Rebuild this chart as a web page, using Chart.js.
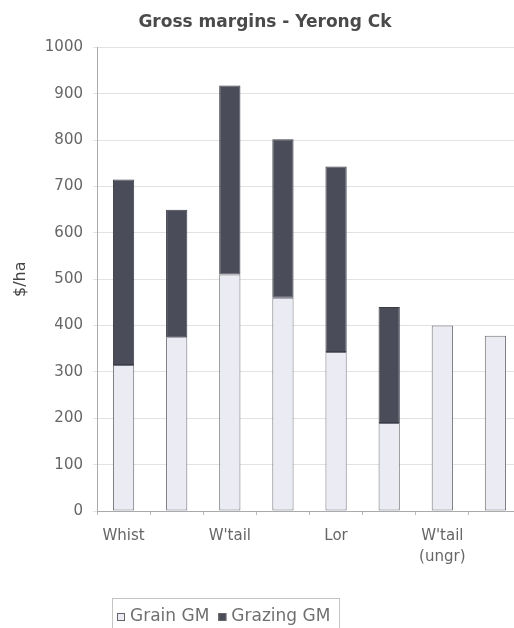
<!DOCTYPE html>
<html>
<head>
<meta charset="utf-8">
<script src="https://cdn.jsdelivr.net/npm/chart.js@4/dist/chart.umd.min.js"></script>
<style>
  html, body { margin: 0; padding: 0; background: #fff; overflow: hidden; }
  #wrap { width: 524px; height: 628px; }
</style>
</head>
<body>
<div id="wrap"><canvas id="gm"></canvas></div>
<script>
const CATEGORIES = ['Whist', '', "W'tail", '', 'Lor', '', ["W'tail", '(ungr)'], '']
const GRAIN_GM = [315, 375, 510, 460, 343, 190, 400, 378]
const GRAZING_GM = [400, 275, 408, 342, 400, 250, 0, 0]
const Y_TICKS = [0, 100, 200, 300, 400, 500, 600, 700, 800, 900, 1000]

const FONT = 'DejaVu Sans'

// excel style legend: boxed, bottom left, drawn by hand
const boxedLegend = {
  id: 'boxedLegend',
  afterDraw(chart) {
    const ctx = chart.ctx
    const left = 112, top = 598, midY = 617, sq = 8
    ctx.save()
    ctx.font = `17px "${FONT}"`
    ctx.textBaseline = 'middle'
    let x = left + 5
    chart.data.datasets.forEach((ds) => {
      ctx.fillStyle = ds.backgroundColor
      ctx.fillRect(x, midY - sq / 2, sq, sq)
      ctx.strokeStyle = '#666'
      ctx.lineWidth = 1
      ctx.strokeRect(x + 0.5, midY - sq / 2 + 0.5, sq - 1, sq - 1)
      x += sq + 5
      ctx.fillStyle = '#707070'
      ctx.fillText(ds.label, x, midY)
      x += ctx.measureText(ds.label).width + 9
    })
    ctx.strokeStyle = '#c4c4c4'
    ctx.strokeRect(left + 0.5, top + 0.5, Math.round(x - left), 40)
    ctx.restore()
  }
}

new Chart(document.getElementById('gm'), {
  type: 'bar',
  data: {
    labels: CATEGORIES,
    datasets: [
      {
        label: 'Grain GM',
        data: GRAIN_GM,
        backgroundColor: '#ebebf3',
        borderColor: '#707078',
        borderWidth: 1,
        borderSkipped: false,
      },
      {
        label: 'Grazing GM',
        data: GRAZING_GM,
        backgroundColor: '#4a4c5a',
        borderColor: '#3a3c48',
        borderWidth: 1,
        borderSkipped: false,
      },
    ],
  },
  options: {
    responsive: true,
    maintainAspectRatio: false,
    animation: false,
    datasets: { bar: { barPercentage: 0.4, categoryPercentage: 1 } },
    layout: { padding: { top: 4, left: 8, right: 2, bottom: 0 } },
    plugins: {
      title: {
        display: true,
        text: 'Gross margins - Yerong Ck',
        color: '#4a4a4a',
        font: { family: FONT, size: 17, weight: 'bold' },
        padding: { top: 8, bottom: 15 },
      },
      legend: { display: false },
      tooltip: { enabled: false },
    },
    scales: {
      x: {
        stacked: true,
        afterFit: (s) => { s.height = 117 },
        grid: { display: true, drawOnChartArea: false, offset: true, tickLength: 4, color: '#bbb' },
        border: { color: '#aaa' },
        ticks: {
          color: '#666',
          font: { family: FONT, size: 15, lineHeight: 1.4 },
          autoSkip: false,
          maxRotation: 0,
          padding: 11,
        },
      },
      y: {
        stacked: true,
        min: 0,
        max: 1000,
        afterBuildTicks: (s) => { s.ticks = Y_TICKS.map(v => ({ value: v })) },
        afterFit: (s) => { s.width = 89 },
        grid: { color: '#e2e2e2', tickLength: 4 },
        border: { color: '#aaa' },
        ticks: {
          color: '#666',
          font: { family: FONT, size: 15 },
          padding: 10,
          callback: (v) => String(v),
        },
        title: {
          display: true,
          text: '$/ha',
          color: '#444',
          font: { family: FONT, size: 16 },
          padding: { top: 3, bottom: 0 },
        },
      },
    },
  },
  plugins: [boxedLegend],
})
</script>
</body>
</html>
